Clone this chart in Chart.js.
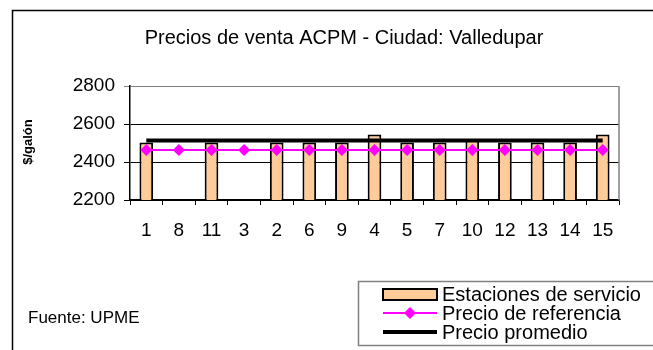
<!DOCTYPE html>
<html>
<head>
<meta charset="utf-8">
<script src="https://cdn.jsdelivr.net/npm/chart.js@4/dist/chart.umd.min.js"></script>
<style>
html,body{margin:0;padding:0;background:#fff;}
#wrap{position:relative;width:653px;height:350px;}
</style>
</head>
<body>
<div id="wrap"><canvas id="c" width="653" height="350"></canvas></div>
<script>
const titleText = 'Precios de venta ACPM - Ciudad: Valledupar';
const yAxisTitle = '$/galón';
const sourceText = 'Fuente: UPME';
const categories = ['1','8','11','3','2','6','9','4','5','7','10','12','13','14','15'];
const estaciones = [2502, null, 2502, null, 2502, 2502, 2502, 2545, 2502, 2502, 2515, 2502, 2502, 2502, 2545];
const referencia = [2463, 2463, 2463, 2463, 2463, 2463, 2463, 2463, 2463, 2463, 2463, 2463, 2463, 2463, 2463];
const promedio = [2513, 2513, 2513, 2513, 2513, 2513, 2513, 2513, 2513, 2513, 2513, 2513, 2513, 2513, 2513];
const seriesNames = ['Estaciones de servicio', 'Precio de referencia', 'Precio promedio'];
const yTicks = [2200, 2400, 2600, 2800];

const FONT = '"Liberation Sans", Arial, sans-serif';

const decor = {
  id: 'decor',
  beforeDatasetsDraw(chart) {
    const {ctx, chartArea: a} = chart;
    ctx.save();
    ctx.strokeStyle = '#808080';
    ctx.lineWidth = 1.5;
    ctx.beginPath();
    ctx.moveTo(a.right, a.top);
    ctx.lineTo(a.right, a.bottom);
    ctx.stroke();
    ctx.restore();
  },
  afterDraw(chart) {
    const {ctx} = chart;
    ctx.save();
    ctx.strokeStyle = '#000';
    ctx.lineWidth = 1.5;
    ctx.beginPath();
    ctx.moveTo(12.5, 350);
    ctx.lineTo(12.5, 10.5);
    ctx.lineTo(653, 10.5);
    ctx.stroke();
    ctx.fillStyle = '#000';
    ctx.font = '20px ' + FONT;
    ctx.textAlign = 'center';
    ctx.textBaseline = 'middle';
    ctx.fillText(titleText, 344, 38);
    ctx.save();
    ctx.translate(28, 142);
    ctx.rotate(-Math.PI / 2);
    ctx.font = 'bold 13px ' + FONT;
    ctx.fillText(yAxisTitle, 0, 0);
    ctx.restore();
    ctx.font = '17px ' + FONT;
    ctx.textAlign = 'left';
    ctx.fillText(sourceText, 28, 318);
    ctx.strokeStyle = '#808080';
    ctx.lineWidth = 1.5;
    ctx.strokeRect(358.5, 281.5, 320, 64);
    const ds = chart.data.datasets;
    const x0 = 383, x1 = 437;
    const rows = [294, 313, 332];
    ctx.fillStyle = ds[0].backgroundColor;
    ctx.fillRect(x0, rows[0] - 5, x1 - x0, 11);
    ctx.strokeStyle = '#000';
    ctx.lineWidth = 2;
    ctx.strokeRect(x0, rows[0] - 5, x1 - x0, 11);
    ctx.strokeStyle = ds[1].borderColor;
    ctx.lineWidth = 2;
    ctx.beginPath(); ctx.moveTo(x0, rows[1]); ctx.lineTo(x1, rows[1]); ctx.stroke();
    ctx.fillStyle = ds[1].borderColor;
    ctx.beginPath();
    const cx = (x0 + x1) / 2, r = 6;
    ctx.moveTo(cx, rows[1] - r); ctx.lineTo(cx + r, rows[1]); ctx.lineTo(cx, rows[1] + r); ctx.lineTo(cx - r, rows[1]);
    ctx.closePath(); ctx.fill();
    ctx.strokeStyle = '#000';
    ctx.lineWidth = 4;
    ctx.beginPath(); ctx.moveTo(x0, rows[2]); ctx.lineTo(x1, rows[2]); ctx.stroke();
    ctx.fillStyle = '#000';
    ctx.font = '20px ' + FONT;
    ctx.textAlign = 'left';
    ctx.textBaseline = 'middle';
    for (let i = 0; i < 3; i++) ctx.fillText(ds[i].label, 442, rows[i] + 1);
    ctx.restore();
  }
};

new Chart(document.getElementById('c'), {
  data: {
    labels: categories,
    datasets: [
      {
        type: 'bar', label: seriesNames[0], data: estaciones,
        backgroundColor: '#FFCC99', borderColor: '#000', borderWidth: 2, borderSkipped: false,
        categoryPercentage: 1, barPercentage: 0.42, order: 3
      },
      {
        type: 'line', label: seriesNames[1], data: referencia,
        borderColor: '#FF00FF', backgroundColor: '#FF00FF', borderWidth: 2,
        pointStyle: 'rectRot', pointRadius: 6, pointBorderWidth: 0, order: 1
      },
      {
        type: 'line', label: seriesNames[2], data: promedio,
        borderColor: '#000', borderWidth: 4, pointRadius: 0, order: 2
      }
    ]
  },
  options: {
    responsive: false,
    animation: false,
    events: [],
    layout: { padding: { left: 0, top: 86, right: 34, bottom: 100 } },
    plugins: { legend: { display: false }, title: { display: false }, tooltip: { enabled: false } },
    scales: {
      x: {
        type: 'category', offset: true,
        grid: { offset: true, drawOnChartArea: false, drawTicks: true, tickLength: 5, color: '#000', lineWidth: 1 },
        border: { color: '#000', width: 1.5 },
        ticks: { color: '#000', font: { family: FONT, size: 19 }, padding: 14, maxRotation: 0, autoSkip: false },
        afterFit(s) { s.height = 50; }
      },
      y: {
        min: 2200, max: 2800,
        afterBuildTicks(s) { s.ticks = yTicks.map(v => ({ value: v })); },
        grid: {
          color: c => (c.tick && c.tick.value === 2800) ? '#808080' : '#000',
          lineWidth: 1, tickLength: 6
        },
        border: { color: '#000', width: 1.5 },
        ticks: { color: '#000', font: { family: FONT, size: 19 }, padding: 9, callback: v => String(v) },
        afterFit(s) { s.width = 130; }
      }
    }
  },
  plugins: [decor]
});
</script>
</body>
</html>
